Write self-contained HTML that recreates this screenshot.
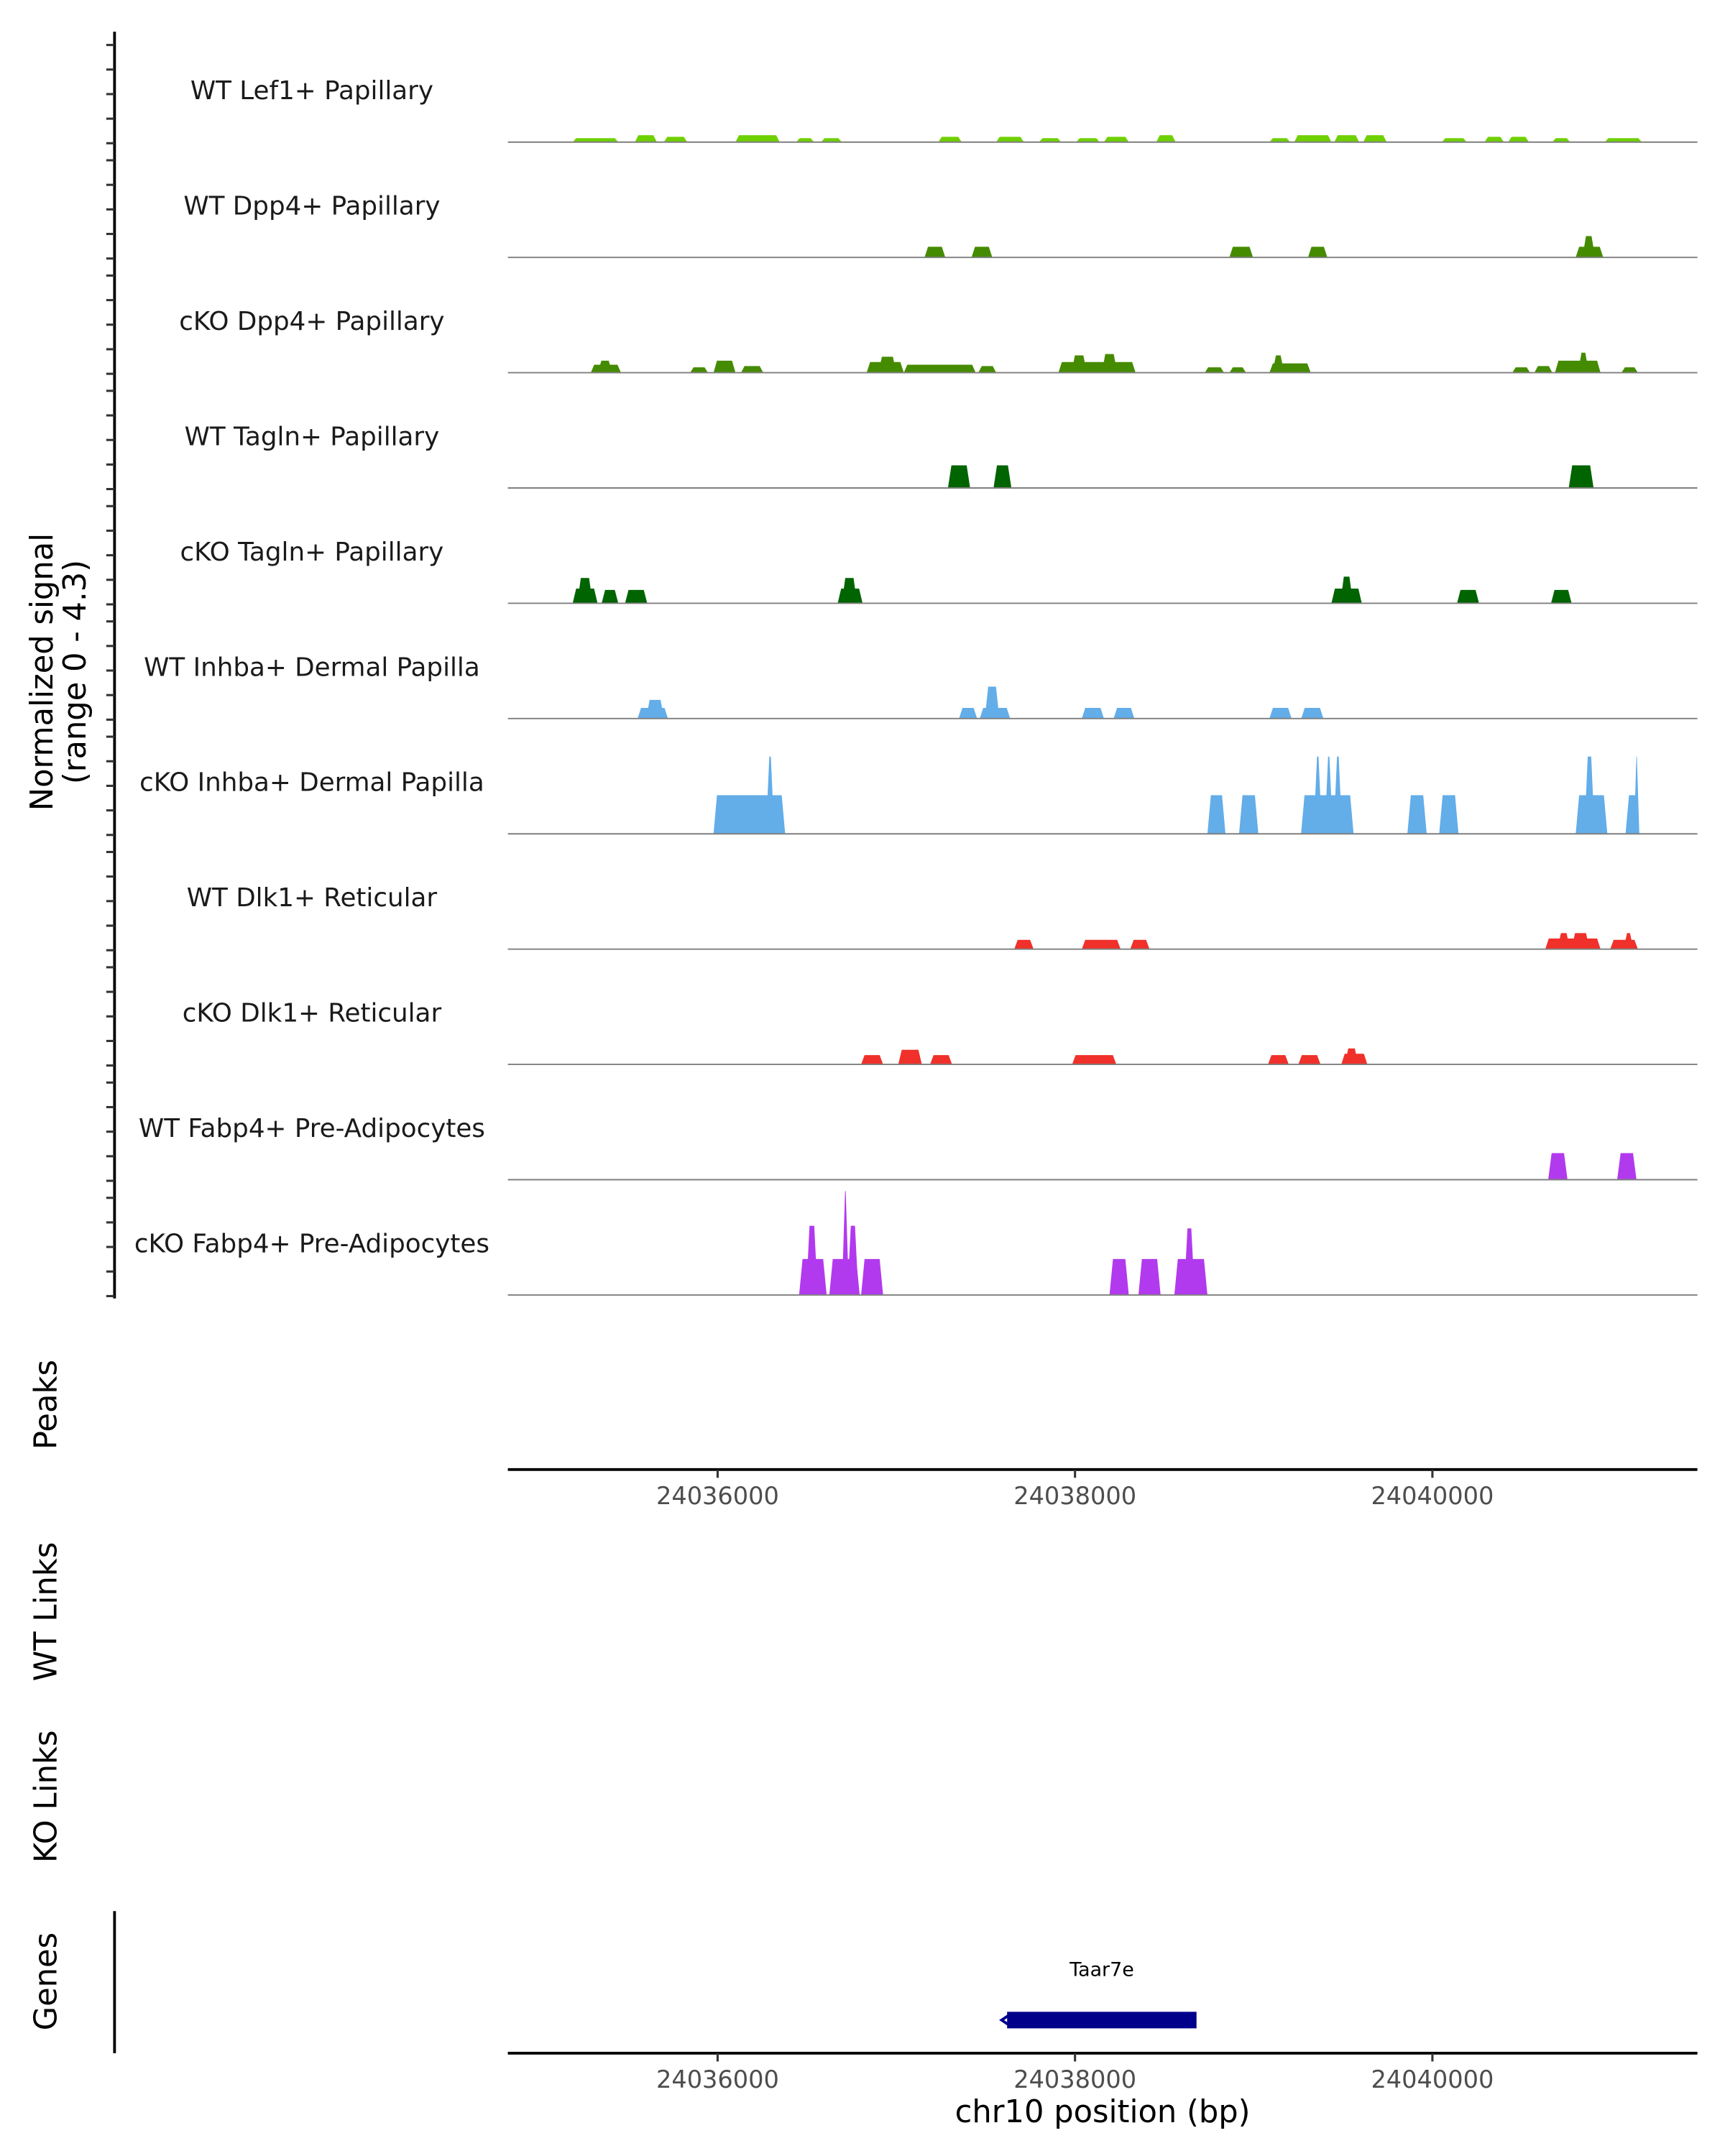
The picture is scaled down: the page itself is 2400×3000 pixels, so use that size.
<!DOCTYPE html>
<html><head><meta charset="utf-8"><style>
html,body{margin:0;padding:0;background:#fff}
svg{display:block;font-family:"DejaVu Sans","Liberation Sans",sans-serif}
</style></head><body>
<svg id="chart" width="2400" height="3000" viewBox="0 0 1250 1562.5" xmlns="http://www.w3.org/2000/svg">
<rect width="1250" height="1562.5" fill="#fff"/>
<g id="tracks"></g>
<g id="axes"></g>
</svg>
<script>
const xMin = 24034826, xMax = 24041483;
const trackNames = ["WT Lef1+ Papillary","WT Dpp4+ Papillary","cKO Dpp4+ Papillary","WT Tagln+ Papillary","cKO Tagln+ Papillary","WT Inhba+ Dermal Papilla","cKO Inhba+ Dermal Papilla","WT Dlk1+ Reticular","cKO Dlk1+ Reticular","WT Fabp4+ Pre-Adipocytes","cKO Fabp4+ Pre-Adipocytes"];
const trackColors = ["#6fd000","#458b00","#458b00","#006400","#006400","#63ade9","#63ade9","#f0302a","#f0302a","#b23aee","#b23aee"];
const yMaxSignal = 4.3;
const xTickValues = [24036000, 24038000, 24040000];
// segments: [start bp, end bp, signal]
const sigLef1 = [[24035189,24035444,0.15],[24035537,24035660,0.26],[24035699,24035830,0.2],[24036100,24036347,0.26],[24036440,24036540,0.15],[24036579,24036695,0.15],[24037235,24037366,0.2],[24037559,24037714,0.2],[24037799,24037922,0.15],[24038007,24038138,0.15],[24038162,24038301,0.2],[24038455,24038563,0.26],[24039088,24039204,0.15],[24039227,24039435,0.26],[24039451,24039590,0.26],[24039613,24039744,0.26],[24040053,24040192,0.15],[24040292,24040400,0.2],[24040424,24040540,0.2],[24040671,24040771,0.15],[24040965,24041172,0.15]];
const sigWtDpp4 = [[24037158,24037274,0.4],[24037421,24037537,0.4],[24038864,24038996,0.4],[24039304,24039412,0.4],[24040802,24040956,0.4],[24040840,24040910,0.8]];
const sigKoDpp4 = [[24035290,24035459,0.3],[24035330,24035410,0.45],[24035846,24035946,0.2],[24035977,24036100,0.45],[24036131,24036255,0.25],[24036834,24037042,0.4],[24036900,24037000,0.6],[24037042,24037444,0.3],[24037459,24037559,0.25],[24037907,24038339,0.4],[24037980,24038066,0.65],[24038150,24038236,0.7],[24038726,24038834,0.2],[24038864,24038957,0.2],[24039088,24039319,0.35],[24039105,24039170,0.65],[24040447,24040547,0.2],[24040571,24040671,0.25],[24040686,24040941,0.45],[24040815,24040875,0.75],[24041058,24041150,0.2]];
const sigWtTagln = [[24037289,24037413,0.85],[24037544,24037644,0.85],[24040763,24040902,0.85]];
const sigKoTagln = [[24035189,24035328,0.55],[24035215,24035300,0.95],[24035351,24035444,0.5],[24035482,24035606,0.5],[24036672,24036811,0.55],[24036695,24036780,0.95],[24039435,24039605,0.55],[24039485,24039555,1.0],[24040138,24040261,0.5],[24040664,24040779,0.5]];
const sigWtInhba = [[24035552,24035722,0.4],[24035600,24035700,0.7],[24037351,24037452,0.4],[24037467,24037637,0.4],[24037495,24037577,1.2],[24038038,24038162,0.4],[24038216,24038332,0.4],[24039088,24039212,0.4],[24039266,24039390,0.4]];
const sigKoInhba = [[24035977,24036378,1.45],[24036270,24036317,2.9],[24038741,24038842,1.45],[24038918,24039026,1.45],[24039265,24039559,1.45],[24039335,24039382,2.9],[24039397,24039443,2.9],[24039447,24039495,2.9],[24039860,24039968,1.45],[24040038,24040146,1.45],[24040802,24040979,1.45],[24040850,24040908,2.9],[24041081,24041158,1.45],[24041128,24041158,2.9]];
const sigWtDlk1 = [[24037660,24037768,0.35],[24038038,24038255,0.35],[24038309,24038417,0.35],[24040632,24040941,0.4],[24040700,24040770,0.6],[24040779,24040879,0.6],[24040995,24041150,0.35],[24041070,24041125,0.6]];
const sigKoDlk1 = [[24036803,24036926,0.35],[24037011,24037143,0.55],[24037189,24037312,0.35],[24037984,24038231,0.35],[24039080,24039196,0.35],[24039250,24039374,0.35],[24039490,24039636,0.4],[24039510,24039585,0.6]];
const sigWtFabp4 = [[24040648,24040756,1.0],[24041034,24041142,1.0]];
const sigKoFabp4 = [[24036456,24036610,1.35],[24036495,24036560,2.6],[24036625,24036795,1.35],[24036695,24036735,3.9],[24036726,24036788,2.6],[24036803,24036926,1.35],[24038193,24038301,1.35],[24038355,24038479,1.35],[24038556,24038741,1.35],[24038610,24038670,2.5]];
const trackSignals = [sigLef1,sigWtDpp4,sigKoDpp4,sigWtTagln,sigKoTagln,sigWtInhba,sigKoInhba,sigWtDlk1,sigKoDlk1,sigWtFabp4,sigKoFabp4];
const geneStart = 24037620, geneEnd = 24038680, geneName = "Taar7e";

const NS = "http://www.w3.org/2000/svg";
const X0 = 368, X1 = 1230, baseY0 = 103, trackStep = 83.55, trackH = 83;
function xScale(bp){ return X0 + (bp - xMin) / (xMax - xMin) * (X1 - X0); }
function yScale(v, base){ return base - v / yMaxSignal * trackH; }
function mk(tag, attrs, parent, text){
  const e = document.createElementNS(NS, tag);
  for (const k in attrs) e.setAttribute(k, attrs[k]);
  if (text !== undefined) e.textContent = text;
  parent.appendChild(e); return e;
}
const gT = document.getElementById("tracks");
const gA = document.getElementById("axes");

trackNames.forEach((name, i) => {
  const base = baseY0 + i * trackStep;
  const g = mk("g", {}, gT);
  
  
  const lbl = mk("text", {x:226, y:base-31, "text-anchor":"middle", "font-size":18.6, fill:"#1a1a1a"}, g, name);
  
  
  trackSignals[i].forEach(s => {
    const xa = xScale(s[0]), xb = xScale(s[1]), yt = yScale(s[2], base);
    const r = Math.min(2.5, (xb - xa) / 2.2);
    const p = mk("polygon", {points:`${xa},${base} ${xa+r},${yt} ${xb-r},${yt} ${xb},${base}`, fill:trackColors[i]}, g);
    
    
  });
  const bl = mk("line", {x1:X0, x2:X1, y1:base, y2:base, stroke:"#7f7f7f", "stroke-width":1}, g);
  
  
});

// left y axis
const ya = mk("line", {x1:83, x2:83, y1:23, y2:941, stroke:"#000", "stroke-width":2}, gA);


for (let k = 0; k < 11; k++) {
  for (let j = 0; j < 5; j++) {
    const y = 32.6 + k * trackStep + j * 17.8;
    const t = mk("line", {x1:77, x2:83, y1:y, y2:y, stroke:"#333", "stroke-width":1.6}, gA);
    
    
  }
}
function vtitle(lines, cy, name){
  const t = mk("text", {transform:`translate(${lines.length>1?42:41},${cy}) rotate(-90)`, "text-anchor":"middle", "font-size":22.5, fill:"#000"}, gA);
  
  
  lines.forEach((l, i) => { mk("tspan", {x:0, dy: i===0 ? (lines.length>1 ? -4 : 0) : 24}, t, l); });
}
vtitle(["Normalized signal","(range 0 - 4.3)"], 487, "y-axis-title");
vtitle(["Peaks"], 1018, "peaks-title");
vtitle(["WT Links"], 1168, "wt-links-title");
vtitle(["KO Links"], 1302, "ko-links-title");
vtitle(["Genes"], 1436, "genes-title");

function xAxis(y, name){
  const l = mk("line", {x1:X0, x2:X1, y1:y, y2:y, stroke:"#000", "stroke-width":2}, gA);
  
  
  xTickValues.forEach(v => {
    const x = xScale(v);
    const t = mk("line", {x1:x, x2:x, y1:y, y2:y+6, stroke:"#333", "stroke-width":1.6}, gA);
    
    
    const tl = mk("text", {x:x, y:y+25, "text-anchor":"middle", "font-size":17.5, fill:"#4d4d4d"}, gA, String(v));
    
    
  });
}
xAxis(1065, "peaks-x-axis");
xAxis(1488, "genes-x-axis");
const xt = mk("text", {x:799, y:1538, "text-anchor":"middle", "font-size":22.5, fill:"#000"}, gA, "chr10 position (bp)");



const gl = mk("line", {x1:83, x2:83, y1:1385, y2:1488, stroke:"#000", "stroke-width":2}, gA);


const gx0 = xScale(geneStart), gx1 = xScale(geneEnd);
const gb = mk("rect", {x:gx0, y:1458, width:gx1-gx0, height:12, fill:"#00008b"}, gA);


const ga = mk("path", {d:`M${gx0+2},1460 L${gx0-4},1464 L${gx0+2},1468`, stroke:"#00008b", "stroke-width":2, fill:"none"}, gA);


const gn = mk("text", {x:(gx0+gx1)/2, y:1432, "text-anchor":"middle", "font-size":14, fill:"#000"}, gA, geneName);


</script>
</body></html>
